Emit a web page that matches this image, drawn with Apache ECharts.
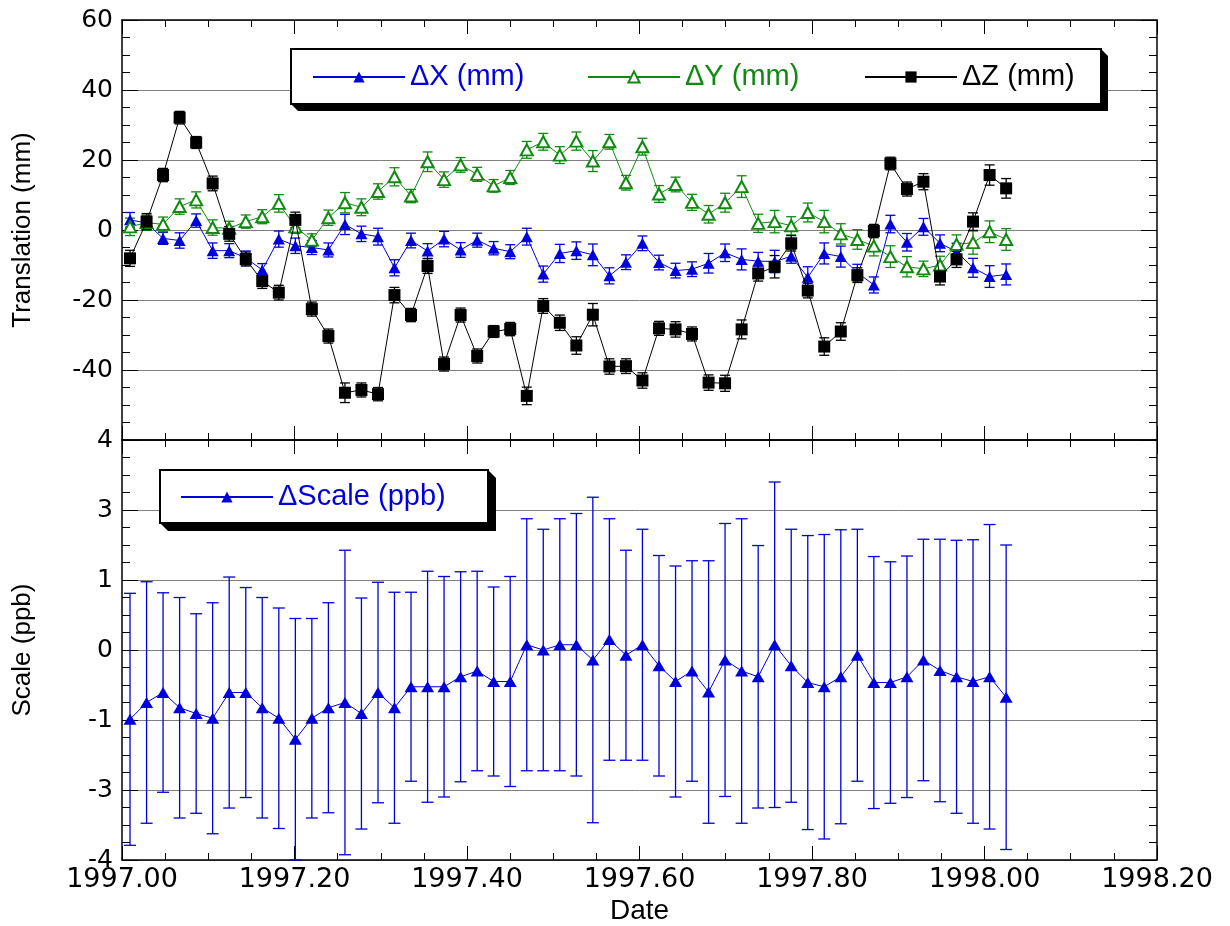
<!DOCTYPE html>
<html>
<head>
<meta charset="utf-8">
<script src="https://cdn.jsdelivr.net/npm/echarts@6/dist/echarts.min.js"></script>
<style>
html,body{margin:0;padding:0;background:#fff;}
#chart{width:1230px;height:926px;}
</style>
</head>
<body>
<div id="chart"></div>
<script>
// ---- data ----
const dates = [1997.0093,1997.0285,1997.0476,1997.0668,1997.0860,1997.1051,1997.1243,1997.1435,1997.1626,1997.1818,
  1997.2010,1997.2201,1997.2393,1997.2585,1997.2776,1997.2968,1997.3159,1997.3351,1997.3543,1997.3734,
  1997.3926,1997.4118,1997.4309,1997.4501,1997.4693,1997.4884,1997.5076,1997.5268,1997.5459,1997.5651,
  1997.5843,1997.6034,1997.6226,1997.6418,1997.6609,1997.6801,1997.6992,1997.7184,1997.7376,1997.7567,
  1997.7759,1997.7951,1997.8142,1997.8334,1997.8526,1997.8717,1997.8909,1997.9101,1997.9292,1997.9484,
  1997.9676,1997.9867,1998.0059,1998.0251];

const dX = [2.9,2.0,-2.4,-3.0,2.7,-5.9,-5.9,-8.0,-11.4,-2.6,
  -4.5,-5.0,-5.7,1.6,-1.1,-1.9,-10.8,-3.0,-6.0,-2.6,
  -5.7,-2.9,-5.2,-6.2,-1.9,-12.6,-6.7,-5.9,-7.1,-13.1,
  -9.2,-3.8,-9.3,-11.6,-11.2,-9.5,-6.5,-8.4,-8.9,-9.0,
  -7.5,-13.5,-6.7,-7.6,-12.2,-15.7,1.7,-3.5,0.9,-3.8,
  -6.2,-10.8,-13.3,-12.7];
const dXErr = [2.1,2.0,1.7,2.2,1.9,2.2,2.0,2.0,1.8,2.3,
  2.2,2.0,2.0,2.9,2.2,2.4,2.3,2.1,2.1,2.2,
  2.1,2.0,1.9,2.0,2.4,2.3,2.6,2.5,3.1,2.3,
  2.1,2.1,2.1,2.1,2.1,2.8,2.5,3.0,2.5,3.2,
  2.0,3.0,3.0,3.0,2.4,2.3,2.5,2.5,2.4,2.4,
  2.4,2.7,3.1,3.0];

const dY = [0.9,2.1,1.6,6.7,8.6,0.7,0.5,2.4,3.8,7.6,
  0.9,-2.9,3.5,7.8,6.5,11.0,15.2,9.7,19.5,14.4,
  18.6,15.9,12.6,15.0,22.9,25.2,21.4,25.4,19.7,25.2,
  13.5,23.8,10.3,13.0,7.9,4.5,7.8,12.4,1.9,2.4,
  1.2,5.0,2.4,-1.1,-2.7,-4.6,-7.6,-10.5,-11.1,-10.0,
  -4.1,-3.6,-0.5,-2.7];
const dYErr = [2.5,2.2,2.1,2.2,2.3,2.2,2.0,1.9,2.0,2.5,
  1.9,1.8,2.2,2.9,2.4,2.2,2.6,1.9,2.8,2.2,
  2.1,2.0,1.8,2.0,2.4,2.4,2.4,2.6,3.0,2.1,
  2.1,2.4,2.4,2.1,2.3,2.5,2.7,3.1,2.6,3.2,
  2.6,2.7,3.2,2.9,2.8,2.8,3.1,2.9,2.2,2.5,
  2.7,3.3,3.1,3.1];

const dZ = [-8.1,2.4,15.7,32.1,25.0,13.3,-1.1,-8.3,-14.6,-17.9,
  2.9,-22.6,-30.3,-46.5,-45.7,-46.9,-18.6,-24.3,-10.3,-38.3,
  -24.3,-36.0,-29.0,-28.3,-47.4,-21.7,-26.5,-33.0,-24.2,-39.0,
  -38.9,-43.0,-28.1,-28.4,-29.7,-43.6,-43.8,-28.4,-12.4,-10.5,
  -3.8,-17.3,-33.3,-29.0,-12.9,-0.3,19.0,11.7,13.8,-13.3,
  -8.4,2.4,15.7,11.9];
const dZErr = [2.3,2.3,1.9,1.8,1.7,2.1,2.1,2.0,2.1,2.1,
  2.2,2.0,2.0,2.8,2.0,1.9,2.2,1.9,2.1,2.0,
  2.0,2.0,1.7,1.9,2.5,2.1,2.2,2.5,3.2,2.2,
  2.1,2.2,2.0,2.2,2.0,2.2,2.3,2.7,2.2,3.2,
  2.2,2.1,2.5,2.5,2.1,1.9,1.8,2.0,2.3,2.4,
  2.3,2.5,2.9,2.8];

const dScale = [-1.32,-1.00,-0.81,-1.10,-1.21,-1.30,-0.81,-0.81,-1.10,-1.30,
  -1.70,-1.30,-1.10,-1.00,-1.21,-0.81,-1.10,-0.70,-0.70,-0.70,
  -0.51,-0.40,-0.60,-0.60,0.10,0.00,0.10,0.10,-0.19,0.20,
  -0.10,0.10,-0.30,-0.60,-0.40,-0.80,-0.19,-0.40,-0.51,0.10,
  -0.30,-0.62,-0.70,-0.51,-0.10,-0.62,-0.62,-0.51,-0.19,-0.39,
  -0.51,-0.60,-0.51,-0.90];
const dScaleErr = [2.4,2.3,1.9,2.1,1.9,2.2,2.2,2.0,2.1,2.1,
  2.3,1.9,2.0,2.9,2.2,2.1,2.2,1.8,2.2,2.1,
  2.0,1.9,1.8,2.0,2.4,2.3,2.4,2.5,3.1,2.3,
  2.0,2.2,2.1,2.2,2.1,2.5,2.6,2.9,2.5,3.1,
  2.6,2.8,2.9,2.8,2.4,2.4,2.3,2.3,2.3,2.5,
  2.6,2.7,2.9,2.9];

const nameX = 'ΔX (mm)', nameY = 'ΔY (mm)', nameZ = 'ΔZ (mm)', nameS = 'ΔScale (ppb)';

// ---- styles ----
const BLUE = '#0000dd', GREEN = '#118a11', BLACK = '#000000';
const tickFont = 'DejaVu Sans';
const txtFont = 'Liberation Sans';

function pts(v){ return dates.map((d,i)=>[d, v[i]]); }
function errData(v,e){ return dates.map((d,i)=>[d, v[i]-e[i], v[i]+e[i]]); }
function errRender(color, half){
  return function(params, api){
    const x = api.value(0);
    const p1 = api.coord([x, api.value(1)]);
    const p2 = api.coord([x, api.value(2)]);
    const st = {stroke: color, lineWidth: 1.3};
    return {type:'group', children:[
      {type:'line', shape:{x1:p1[0],y1:p1[1],x2:p2[0],y2:p2[1]}, style:st},
      {type:'line', shape:{x1:p1[0]-half,y1:p1[1],x2:p1[0]+half,y2:p1[1]}, style:st},
      {type:'line', shape:{x1:p2[0]-half,y1:p2[1],x2:p2[0]+half,y2:p2[1]}, style:st}
    ]};
  };
}
function errSeries(v,e,color,gi,half){
  return {type:'custom', xAxisIndex:gi*2, yAxisIndex:gi*2, data:errData(v,e),
    encode:{x:0,y:[1,2]}, renderItem:errRender(color,half), silent:true, z:2};
}

function xAxisDef(gi, pos, labels){
  return {type:'value', gridIndex:gi, position:pos, min:1997, max:1998.2, interval:0.2,
    axisLine:{show:true, onZero:false, lineStyle:{color:'#000', width:1.5}},
    axisTick:{show:true, inside:true, length:14, lineStyle:{color:'#000', width:1}},
    minorTick:{show:true, splitNumber:4, length:7, lineStyle:{color:'#000', width:1}},
    splitLine:{show:false},
    axisLabel:{show:labels, margin:6, color:'#000', fontFamily:tickFont, fontSize:27,
      formatter:v=>v.toFixed(2)},
    name: labels ? 'Date' : '', nameLocation:'middle', nameGap:37,
    nameTextStyle:{color:'#000', fontFamily:txtFont, fontSize:28}
  };
}
function yAxisDef(gi, pos, opts){
  const left = pos==='left';
  return Object.assign({type:'value', gridIndex:gi, position:pos,
    axisLine:{show:true, onZero:false, lineStyle:{color:'#000', width:1.5}},
    axisTick:{show:true, inside:true, length:16, lineStyle:{color:'#000', width:1}},
    minorTick:{show:true, splitNumber:4, length:8, lineStyle:{color:'#000', width:1}},
    splitLine:{show:left, lineStyle:{color:'#808080', width:1}},
    axisLabel:{show:left, margin:9, color:'#000', fontFamily:tickFont, fontSize:25, showMinLabel:true, showMaxLabel:true},
    nameLocation:'middle', nameGap:86,
    nameTextStyle:{color:'#000', fontFamily:txtFont, fontSize:26}
  }, opts);
}

// legend boxes drawn as graphics
function boxGraphic(x,y,w,h,s){
  return [
    {type:'polygon', z:3, silent:true, shape:{points:[[x+w,y],[x+w+s,y+s],[x+w+s,y+h+s],[x+s,y+h+s],[x,y+h]]}, style:{fill:'#000'}},
    {type:'rect', z:4, silent:true, shape:{x:x,y:y,width:w,height:h}, style:{fill:'#fff', stroke:'#000', lineWidth:2}}
  ];
}

function legendDef(name, left, top, color){
  return {data:[name], left:left, top:top, padding:0, itemWidth:92, itemHeight:14, itemGap:0, z:6,
    selectedMode:false, textStyle:{color:color, fontFamily:txtFont, fontSize:29, lineHeight:32}};
}

const option = {
  animation:false,
  backgroundColor:'#fff',
  grid:[
    {left:122, right:73, top:20, height:420, containLabel:false, outerBoundsMode:'none'},
    {left:122, right:73, top:440, height:420, containLabel:false, outerBoundsMode:'none'}
  ],
  xAxis:[
    xAxisDef(0,'bottom',false),
    xAxisDef(0,'top',false),
    xAxisDef(1,'bottom',true),
    xAxisDef(1,'top',false)
  ],
  yAxis:[
    yAxisDef(0,'left',{min:-60,max:60,interval:20,name:'Translation (mm)',
      axisLabel:{show:true, margin:9, color:'#000', fontFamily:tickFont, fontSize:25, showMinLabel:true, showMaxLabel:true,
        formatter:v=> (v<=-59 ? '' : String(Math.round(v)))}}),
    yAxisDef(0,'right',{min:-60,max:60,interval:20}),
    yAxisDef(1,'left',{min:-4,max:4,interval:4/3,name:'Scale (ppb)',
      axisLabel:{show:true, margin:9, color:'#000', fontFamily:tickFont, fontSize:25, showMinLabel:true, showMaxLabel:true,
        formatter:v=> String(Math.round(v)+0)}}),
    yAxisDef(1,'right',{min:-4,max:4,interval:4/3})
  ],
  graphic: [].concat(boxGraphic(291,49,810,55,7), boxGraphic(160,470,328,53,8)),
  legend:[
    legendDef(nameX, 312, 61, BLUE),
    legendDef(nameY, 587, 61, GREEN),
    legendDef(nameZ, 864, 61, BLACK),
    legendDef(nameS, 180, 481, BLUE)
  ],
  series:[
    errSeries(dX,dXErr,BLUE,0,5),
    errSeries(dY,dYErr,GREEN,0,5),
    errSeries(dZ,dZErr,BLACK,0,5),
    errSeries(dScale,dScaleErr,BLUE,1,6),
    {name:nameX, type:'line', xAxisIndex:0, yAxisIndex:0, data:pts(dX), symbol:'triangle', symbolSize:[12,11],
      lineStyle:{color:BLUE,width:1}, itemStyle:{color:BLUE}, z:3},
    {name:nameY, type:'line', xAxisIndex:0, yAxisIndex:0, data:pts(dY), symbol:'emptyTriangle', symbolSize:[12,11],
      lineStyle:{color:GREEN,width:1}, itemStyle:{color:GREEN, borderColor:GREEN, borderWidth:1.5}, z:4},
    {name:nameZ, type:'line', xAxisIndex:0, yAxisIndex:0, data:pts(dZ), symbol:'rect', symbolSize:12,
      lineStyle:{color:BLACK,width:1}, itemStyle:{color:BLACK}, z:5},
    {name:nameS, type:'line', xAxisIndex:2, yAxisIndex:2, data:pts(dScale), symbol:'triangle', symbolSize:[13,11],
      lineStyle:{color:BLUE,width:1}, itemStyle:{color:BLUE}, z:3}
  ]
};

const chart = echarts.init(document.getElementById('chart'), null, {renderer:'canvas'});
chart.setOption(option);
</script>
</body>
</html>
